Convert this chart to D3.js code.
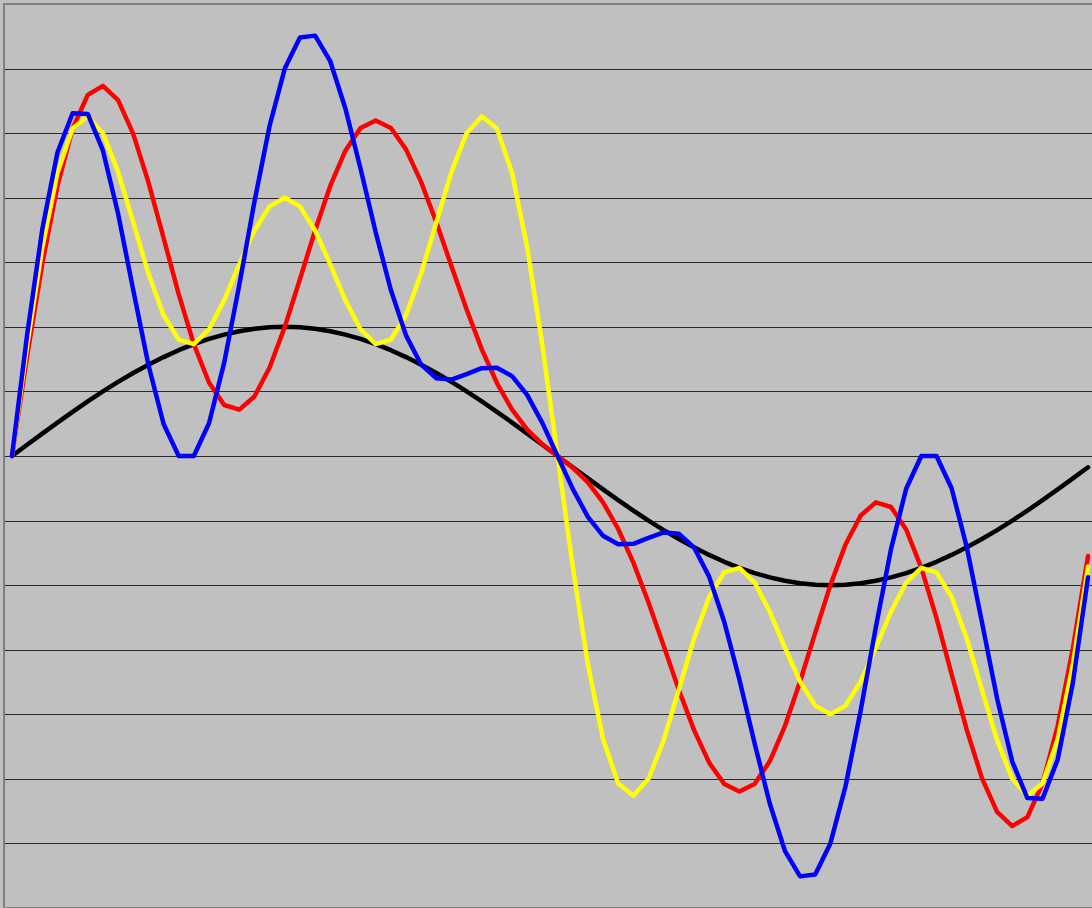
<!DOCTYPE html>
<html>
<head>
<meta charset="utf-8">
<script src="https://cdn.jsdelivr.net/npm/d3@7"></script>
<style>
  html, body { margin: 0; padding: 0; background: #C0C0C0; }
  svg { display: block; }
</style>
</head>
<body>
<svg id="chart" width="1092" height="908"></svg>
<script>
// Categories: angle in degrees
const categories = [0,5,10,15,20,25,30,35,40,45,50,55,60,65,70,75,80,85,90,95,100,105,110,115,120,125,130,135,140,145,150,155,160,165,170,175,180,185,190,195,200,205,210,215,220,225,230,235,240,245,250,255,260,265,270,275,280,285,290,295,300,305,310,315,320,325,330,335,340,345,350,355];

const blackSeries = [0,0.0872,0.1736,0.2588,0.3420,0.4226,0.5,0.5736,0.6428,0.7071,0.7660,0.8192,0.8660,0.9063,0.9397,0.9659,0.9848,0.9962,1,0.9962,0.9848,0.9659,0.9397,0.9063,0.8660,0.8192,0.7660,0.7071,0.6428,0.5736,0.5,0.4226,0.3420,0.2588,0.1736,0.0872,0,
  -0.0872,-0.1736,-0.2588,-0.3420,-0.4226,-0.5,-0.5736,-0.6428,-0.7071,-0.7660,-0.8192,-0.8660,-0.9063,-0.9397,-0.9659,-0.9848,-0.9962,-1,-0.9962,-0.9848,-0.9659,-0.9397,-0.9063,-0.8660,-0.8192,-0.7660,-0.7071,-0.6428,-0.5736,-0.5,-0.4226,-0.3420,-0.2588,-0.1736,-0.0872];

const redSeries = [0,0.775,1.490,2.091,2.535,2.796,2.866,2.756,2.494,2.121,1.690,1.254,0.866,0.569,0.395,0.359,0.461,0.685,1.000,1.369,1.746,2.091,2.364,2.539,2.598,2.540,2.374,2.121,1.810,1.470,1.134,0.826,0.565,0.359,0.205,0.091,0,
  -0.091,-0.205,-0.359,-0.565,-0.826,-1.134,-1.470,-1.810,-2.121,-2.374,-2.540,-2.598,-2.539,-2.364,-2.091,-1.746,-1.369,-1.000,-0.685,-0.461,-0.359,-0.395,-0.569,-0.866,-1.254,-1.690,-2.121,-2.494,-2.756,-2.866,-2.796,-2.535,-2.091,-1.490,-0.775];

const yellowSeries = [0,0.856,1.613,2.191,2.535,2.630,2.500,2.200,1.810,1.414,1.092,0.901,0.866,0.980,1.206,1.484,1.746,1.933,2.000,1.933,1.746,1.484,1.206,0.980,0.866,0.901,1.092,1.414,1.810,2.200,2.500,2.630,2.535,2.191,1.613,0.856,0,
  -0.856,-1.613,-2.191,-2.535,-2.630,-2.500,-2.200,-1.810,-1.414,-1.092,-0.901,-0.866,-0.980,-1.206,-1.484,-1.746,-1.933,-2.000,-1.933,-1.746,-1.484,-1.206,-0.980,-0.866,-0.901,-1.092,-1.414,-1.810,-2.200,-2.500,-2.630,-2.535,-2.191,-1.613,-0.856];

const blueSeries = [0,0.939,1.756,2.350,2.654,2.649,2.366,1.877,1.286,0.707,0.250,0.000,0.000,0.254,0.721,1.325,1.970,2.557,3.000,3.241,3.255,3.057,2.691,2.224,1.732,1.285,0.934,0.707,0.602,0.592,0.634,0.680,0.684,0.618,0.471,0.255,0,
  -0.255,-0.471,-0.618,-0.684,-0.680,-0.634,-0.592,-0.602,-0.707,-0.934,-1.285,-1.732,-2.224,-2.691,-3.057,-3.255,-3.241,-3.000,-2.557,-1.970,-1.325,-0.721,-0.254,0.000,0.000,-0.250,-0.707,-1.286,-1.877,-2.366,-2.649,-2.654,-2.350,-1.756,-0.939];

const gridTicks = [-3,-2.5,-2,-1.5,-1,-0.5,0,0.5,1,1.5,2,2.5,3];
const yDomain = [-3.5, 3.5];

const seriesList = [
  { name: "sin", values: blackSeries, color: "#000000" },
  { name: "red", values: redSeries, color: "#FF0000" },
  { name: "yellow", values: yellowSeries, color: "#FFFF00" },
  { name: "blue", values: blueSeries, color: "#0000FF" }
];

const svg = d3.select("#chart");
const plot = { left: 4.4, top: 4, right: 1095.6, bottom: 908 };

const x = d3.scalePoint().domain(categories).range([plot.left, plot.right]).padding(0.5);
const y = d3.scaleLinear().domain(yDomain).range([plot.bottom, plot.top]);

svg.append("rect")
  .attr("x", 0).attr("y", 0).attr("width", 1092).attr("height", 908)
  .attr("fill", "#C0C0C0");

svg.append("g")
  .selectAll("line")
  .data(gridTicks)
  .join("line")
  .attr("x1", plot.left).attr("x2", plot.right)
  .attr("y1", d => Math.round(y(d)) + 0.5)
  .attr("y2", d => Math.round(y(d)) + 0.5)
  .attr("stroke", "#2a2a2a")
  .attr("stroke-width", 1);

svg.append("rect")
  .attr("x", 4).attr("y", 4)
  .attr("width", plot.right - 4).attr("height", plot.bottom - 4)
  .attr("fill", "none")
  .attr("stroke", "#808080")
  .attr("stroke-width", 2);

const line = d3.line()
  .x((d, i) => x(categories[i]))
  .y(d => y(d));

svg.append("g")
  .selectAll("path")
  .data(seriesList)
  .join("path")
  .attr("d", s => line(s.values))
  .attr("fill", "none")
  .attr("stroke", s => s.color)
  .attr("stroke-width", 4.5)
  .attr("stroke-linejoin", "round")
  .attr("stroke-linecap", "round");
</script>
</body>
</html>
